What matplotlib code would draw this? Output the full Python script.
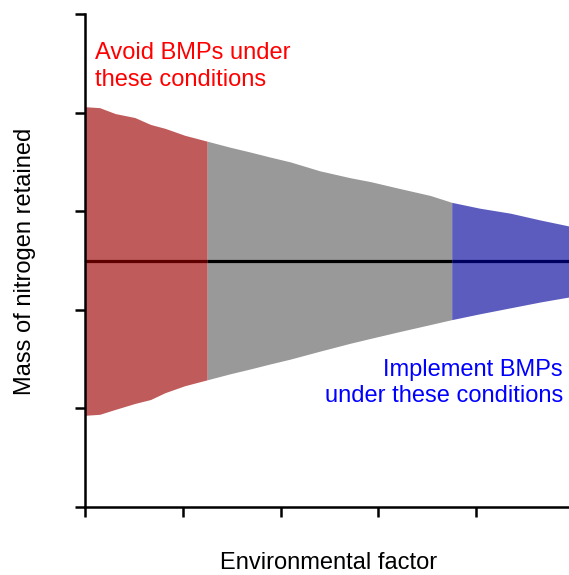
import matplotlib
matplotlib.use("Agg")
import matplotlib.pyplot as plt
import numpy as np

plt.rcParams['font.family'] = ['Liberation Sans', 'DejaVu Sans']

# Band edges
x_pts = [0.00, 0.15, 0.31, 0.51, 0.67, 0.82, 1.02, 1.25, 1.48, 1.69, 1.89, 2.10,
         2.40, 2.71, 2.92, 3.22, 3.53, 3.75, 4.04, 4.35, 4.66, 4.95]
upper = [4.06, 4.05, 3.99, 3.95, 3.88, 3.84, 3.77, 3.71, 3.65, 3.60, 3.55, 3.50,
         3.41, 3.34, 3.30, 3.23, 3.16, 3.09, 3.03, 2.98, 2.91, 2.85]
lower = [0.93, 0.94, 0.99, 1.05, 1.09, 1.16, 1.23, 1.29, 1.35, 1.40, 1.45, 1.50,
         1.58, 1.66, 1.71, 1.78, 1.85, 1.90, 1.96, 2.02, 2.08, 2.13]
center = 2.5
avoid_end = 1.25
implement_start = 3.75
xticks = [0, 1, 2, 3, 4]
yticks = [0, 1, 2, 3, 4, 5]

x = np.array(x_pts)
up = np.array(upper)
lo = np.array(lower)

fig = plt.figure(figsize=(5.69, 5.75), dpi=100)
ax = fig.add_axes([85/569, 68/575, 484/569, 493/575])

regions = [
    (0, avoid_end, '#C05B5B', '#5E0000'),
    (avoid_end, implement_start, '#999999', '#000000'),
    (implement_start, x.max(), '#5C5CBF', '#00005E'),
]
for x0, x1, fc, lc in regions:
    m = (x >= x0 - 1e-9) & (x <= x1 + 1e-9)
    ax.fill_between(x[m], lo[m], up[m], color=fc, linewidth=0)
    ax.plot([x0, x1], [center, center], color=lc, linewidth=2.3, solid_capstyle='butt')

ax.set_xlim(0, 4.95)
ax.set_ylim(0, 5)
ax.set_xticks(xticks)
ax.set_yticks(yticks)
ax.set_xticklabels([])
ax.set_yticklabels([])
ax.tick_params(direction='out', length=7, width=1.8, color='black')
for s in ['top', 'right']:
    ax.spines[s].set_visible(False)
for s in ['left', 'bottom']:
    ax.spines[s].set_linewidth(1.8)

fs = 17
ax.text(10/484, (507-42)/493, "Avoid BMPs under\nthese conditions", transform=ax.transAxes,
        color='#FF0000', fontsize=fs, ha='left', va='top', linespacing=1.3)
ax.text((563-85)/484, (507-359)/493, "Implement BMPs\nunder these conditions", transform=ax.transAxes,
        color='#0000FF', fontsize=fs, ha='right', va='top', multialignment='right', linespacing=1.25)

fig.text(329/569, 1 - 563/575, "Environmental factor", fontsize=fs, ha='center', va='center')
fig.text(25/569, 1 - 261/575, "Mass of nitrogen retained", fontsize=fs, ha='center', va='center',
         rotation=90)

fig.savefig("out.png", dpi=100)
